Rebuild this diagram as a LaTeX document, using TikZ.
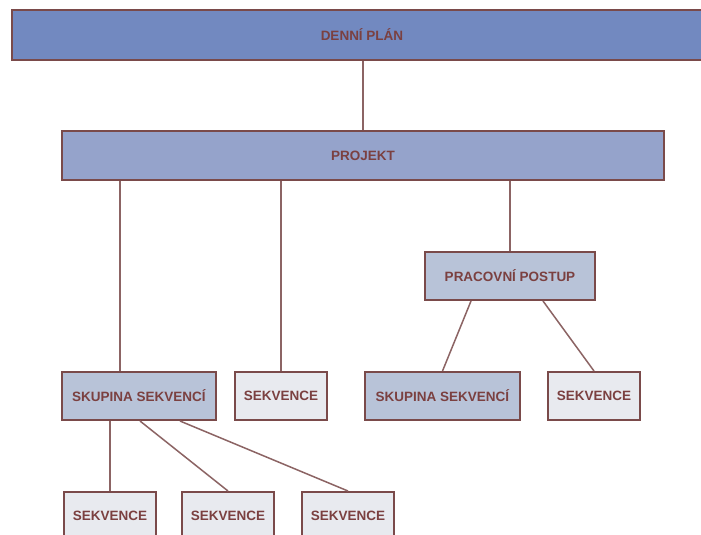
\documentclass[tikz,border=0pt]{standalone}
\usepackage{fontspec}
\setmainfont{Liberation Sans}
\definecolor{bordc}{HTML}{7A4A4A}
\definecolor{txtc}{HTML}{7B4040}
\definecolor{linec}{HTML}{8C6464}
\definecolor{fillA}{HTML}{7289C0}
\definecolor{fillB}{HTML}{95A3CB}
\definecolor{fillC}{HTML}{B8C3D8}
\definecolor{fillD}{HTML}{E8EAEF}
\tikzset{
  box/.style={draw=bordc, line width=2pt, rectangle, inner sep=0pt, text=txtc,
    font=\bfseries\fontsize{13.5}{15}\selectfont},
  conn/.style={draw=linec, line width=1.5pt}
}
\begin{document}
\begin{tikzpicture}[x=1pt,y=-1pt]
\useasboundingbox (0,0) rectangle (701,535);
\clip (0,0) rectangle (701,535);
\fill[white] (0,0) rectangle (701,535);
\node[box, fill=fillA, minimum width=700pt, minimum height=50pt] (denni) at (362,35) {DENNÍ PLÁN};
\node[box, fill=fillB, minimum width=602pt, minimum height=49pt] (projekt) at (363,155.5) {PROJEKT};
\node[box, fill=fillC, minimum width=170pt, minimum height=48pt] (prac) at (510,276) {PRACOVNÍ POSTUP};
\node[box, fill=fillC, minimum width=154pt, minimum height=48pt] (skupA) at (139,396) {SKUPINA SEKVENCÍ};
\node[box, fill=fillD, minimum width=92pt, minimum height=48pt] (sekvA) at (281,396) {SEKVENCE};
\node[box, fill=fillC, minimum width=155pt, minimum height=48pt] (skupB) at (442.5,396) {SKUPINA SEKVENCÍ};
\node[box, fill=fillD, minimum width=92pt, minimum height=48pt] (sekvB) at (594,396) {SEKVENCE};
\node[box, fill=fillD, minimum width=92pt, minimum height=48pt] (sekvC1) at (110,516) {SEKVENCE};
\node[box, fill=fillD, minimum width=92pt, minimum height=48pt] (sekvC2) at (228,516) {SEKVENCE};
\node[box, fill=fillD, minimum width=92pt, minimum height=48pt] (sekvC3) at (348,516) {SEKVENCE};
% connectors
\coordinate (pA) at ([xshift=-19pt]skupA.north);
\draw[conn] (projekt.north |- denni.south) -- (projekt.north);
\draw[conn] (pA |- projekt.south) -- (pA);
\draw[conn] (sekvA.north |- projekt.south) -- (sekvA.north);
\draw[conn] (prac.north |- projekt.south) -- (prac.north);
\draw[conn] ([xshift=-39pt]prac.south) -- (skupB.north);
\draw[conn] ([xshift=33pt]prac.south) -- (sekvB.north);
\draw[conn] ([xshift=-29pt]skupA.south) -- (sekvC1.north);
\draw[conn] ([xshift=1pt]skupA.south) -- (sekvC2.north);
\draw[conn] ([xshift=41pt]skupA.south) -- (sekvC3.north);
\end{tikzpicture}
\end{document}
